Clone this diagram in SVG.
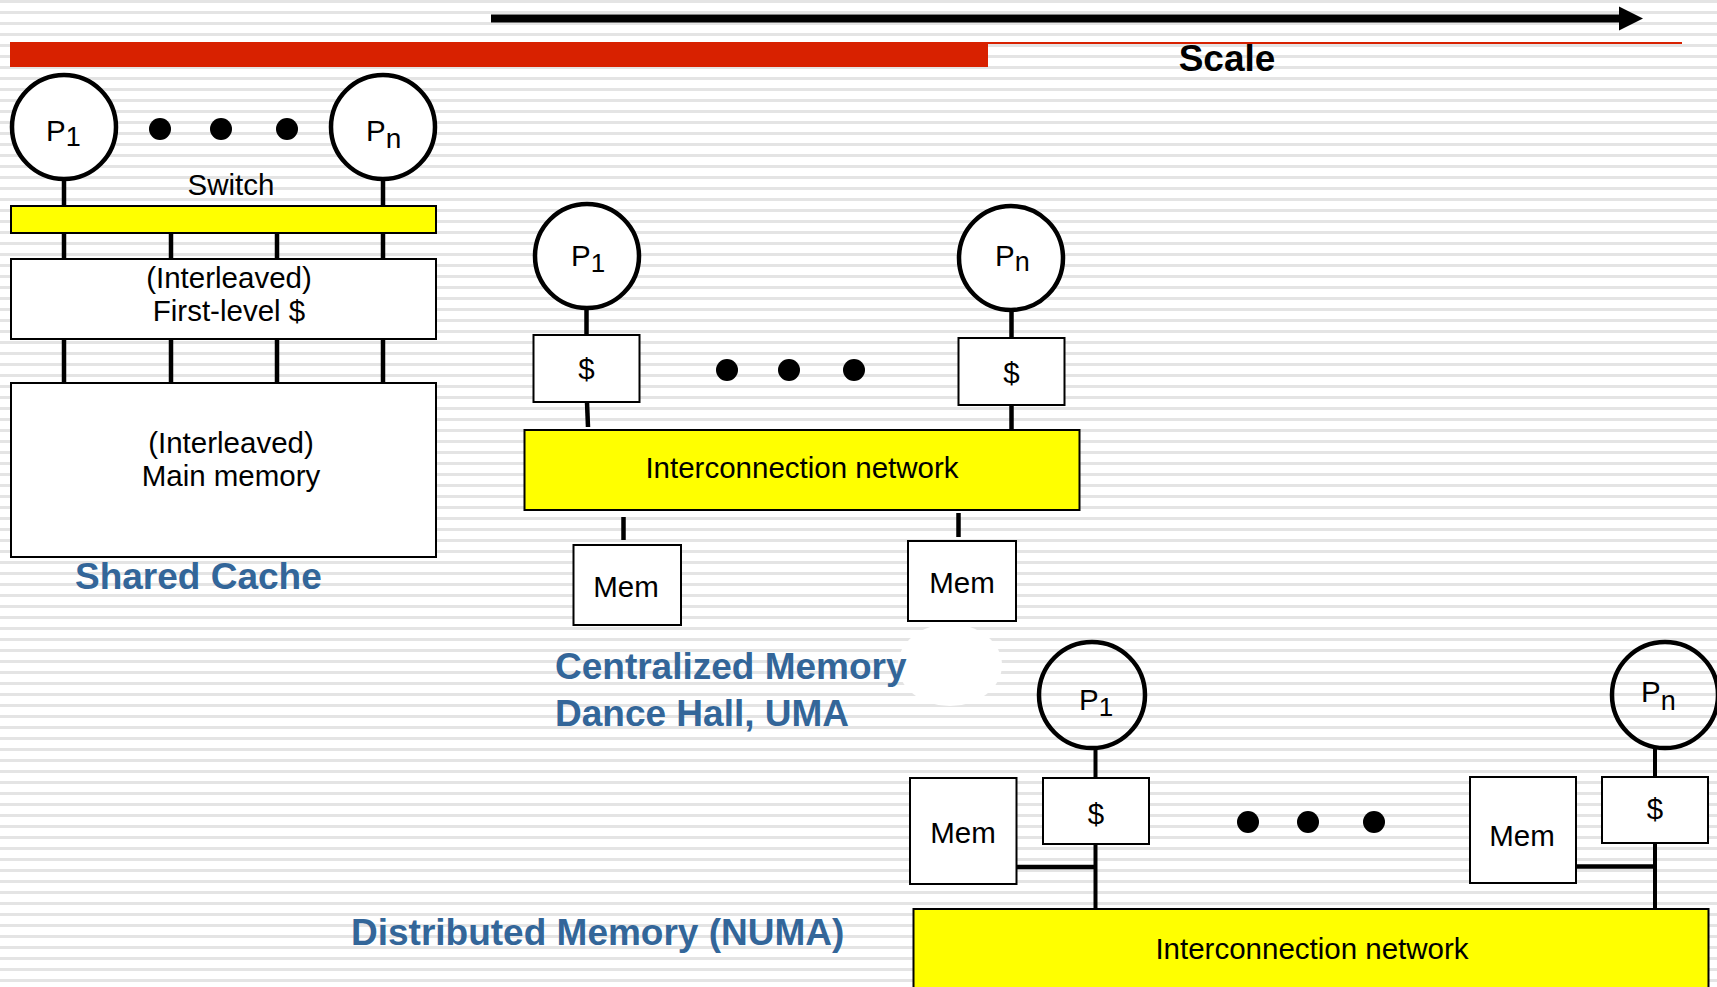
<svg xmlns="http://www.w3.org/2000/svg" width="1717" height="987" viewBox="0 0 1717 987">
  <style>
    .box{fill:#fff;stroke:#000;stroke-width:2}
    .net{fill:#ffff00;stroke:#000;stroke-width:2}
    .proc{fill:#fff;stroke:#000;stroke-width:4.5}
    .proc-open{fill:none;stroke:#000;stroke-width:4.5}
    .wire{stroke:#000;stroke-width:4.5;fill:none}
    .wire-thin{stroke:#000;stroke-width:4;fill:none}
    .dot{fill:#000}
    .lbl{font-family:"Liberation Sans",Arial,sans-serif;fill:#000;font-size:29.5px}
    .mid{text-anchor:middle}
    .title{font-family:"Liberation Sans",Arial,sans-serif;font-weight:bold;fill:#336699;font-size:37px}
  </style>
  <defs>
    <pattern id="stripes" width="40" height="11" patternUnits="userSpaceOnUse">
      <rect width="40" height="11" fill="#ffffff"/>
      <rect width="40" height="3" fill="#e4e4e4"/>
    </pattern>
  </defs>

  <!-- striped backdrop -->
  <rect width="1717" height="987" fill="url(#stripes)"/>

  <!-- scale arrow and header bar -->
  <g id="scale-axis">
    <rect x="491" y="14.5" width="1130" height="8" fill="#000"/>
    <polygon points="1619,6.5 1643,18.5 1619,30.5" fill="#000"/>
    <rect x="10" y="42" width="978" height="25" fill="#d82100"/>
    <rect x="988" y="42" width="694" height="2" fill="#d82100"/>
    <text x="1227" y="71" text-anchor="middle" font-family="Liberation Sans, Arial, sans-serif" font-weight="bold" font-size="37">Scale</text>
  </g>

  <!-- white smudge behind the label area -->
  <ellipse cx="950" cy="665" rx="52" ry="41" fill="#fff"/>

  <!-- connectors -->
  <g id="connectors">
    <!-- shared cache -->
    <line class="wire" x1="64" y1="180" x2="64" y2="207"/>
    <line class="wire" x1="383" y1="180" x2="383" y2="207"/>
    <line class="wire" x1="64" y1="233" x2="64" y2="260"/>
    <line class="wire" x1="171" y1="233" x2="171" y2="260"/>
    <line class="wire" x1="277" y1="233" x2="277" y2="260"/>
    <line class="wire" x1="383" y1="233" x2="383" y2="260"/>
    <line class="wire" x1="64" y1="339" x2="64" y2="383"/>
    <line class="wire" x1="171" y1="339" x2="171" y2="383"/>
    <line class="wire" x1="277" y1="339" x2="277" y2="383"/>
    <line class="wire" x1="383" y1="339" x2="383" y2="383"/>
    <!-- centralized memory -->
    <line class="wire" x1="586.5" y1="309" x2="586.5" y2="335"/>
    <line class="wire" x1="587" y1="402" x2="588" y2="427"/>
    <line class="wire" x1="1011.5" y1="312" x2="1011.5" y2="338"/>
    <line class="wire" x1="1011.5" y1="405" x2="1011.5" y2="430"/>
    <line class="wire" x1="623.5" y1="517" x2="623.5" y2="540"/>
    <line class="wire" x1="958.5" y1="513" x2="958.5" y2="537"/>
    <!-- distributed memory -->
    <line class="wire-thin" x1="1095.5" y1="749" x2="1095.5" y2="778"/>
    <line class="wire-thin" x1="1095.5" y1="844" x2="1095.5" y2="909"/>
    <line class="wire" stroke-width="5" x1="1016" y1="867" x2="1095.5" y2="867"/>
    <line class="wire-thin" x1="1655" y1="749" x2="1655" y2="777"/>
    <line class="wire-thin" x1="1655" y1="843" x2="1655" y2="909"/>
    <line class="wire" stroke-width="5" x1="1576" y1="866.5" x2="1655" y2="866.5"/>
  </g>

  <!-- ===== Shared cache ===== -->
  <g id="sc-p1">
    <circle class="proc" cx="64" cy="127" r="52"/>
    <text class="lbl" x="46" y="141" font-size="30">P<tspan font-size="27" dy="5">1</tspan></text>
  </g>
  <g id="sc-dots">
    <circle class="dot" cx="160" cy="129" r="11"/>
    <circle class="dot" cx="221" cy="129" r="11"/>
    <circle class="dot" cx="287" cy="129" r="11"/>
  </g>
  <g id="sc-pn">
    <circle class="proc" cx="383" cy="127" r="52"/>
    <text class="lbl" x="366" y="141" font-size="30">P<tspan font-size="28" dy="7">n</tspan></text>
  </g>
  <g id="sc-switch">
    <text class="lbl mid" x="231" y="195">Switch</text>
    <rect class="net" x="11" y="206" width="425" height="27" stroke-width="1.5"/>
  </g>
  <g id="sc-l1">
    <rect class="box" x="11" y="259" width="425" height="80" stroke-width="1.5"/>
    <text class="lbl mid" x="229" y="288" font-size="28.5">(Interleaved)</text>
    <text class="lbl mid" x="229" y="321" font-size="28.5">First-level $</text>
  </g>
  <g id="sc-mem">
    <rect class="box" x="11" y="383" width="425" height="174" stroke-width="1.5"/>
    <text class="lbl mid" x="231" y="453" font-size="29.5">(Interleaved)</text>
    <text class="lbl mid" x="231" y="486" font-size="29.5">Main memory</text>
  </g>
  <text id="sc-title" class="title" x="75" y="589">Shared Cache</text>

  <!-- ===== Centralized memory ===== -->
  <g id="cm-p1">
    <circle class="proc" cx="587" cy="256" r="52"/>
    <text class="lbl" x="571" y="266" font-size="29">P<tspan font-size="26" dy="6">1</tspan></text>
  </g>
  <g id="cm-c1">
    <rect class="box" x="533.5" y="335" width="106" height="67"/>
    <text class="lbl mid" x="586.5" y="379" font-size="29">$</text>
  </g>
  <g id="cm-pn">
    <circle class="proc" cx="1011" cy="258" r="52"/>
    <text class="lbl" x="995" y="266" font-size="29">P<tspan font-size="27" dy="5">n</tspan></text>
  </g>
  <g id="cm-cn">
    <rect class="box" x="958.5" y="338" width="106" height="67"/>
    <text class="lbl mid" x="1011.5" y="383" font-size="29">$</text>
  </g>
  <g id="cm-dots">
    <circle class="dot" cx="727" cy="370" r="11"/>
    <circle class="dot" cx="789" cy="370" r="11"/>
    <circle class="dot" cx="854" cy="370" r="11"/>
  </g>
  <g id="cm-net">
    <rect class="net" x="524.5" y="430" width="555" height="80"/>
    <text class="lbl mid" x="802" y="478" font-size="30.4">Interconnection network</text>
  </g>
  <g id="cm-mem1">
    <rect class="box" x="573.5" y="545" width="107.5" height="80"/>
    <text class="lbl mid" x="626" y="597">Mem</text>
  </g>
  <g id="cm-mem2">
    <rect class="box" x="908" y="541" width="108" height="80"/>
    <text class="lbl mid" x="962" y="593">Mem</text>
  </g>
  <g id="cm-title">
    <text class="title" x="555" y="679">Centralized Memory</text>
    <text class="title" x="555" y="726">Dance Hall, UMA</text>
  </g>

  <!-- ===== Distributed memory ===== -->
  <g id="dm-p1">
    <circle class="proc-open" cx="1092" cy="695" r="53"/>
    <text class="lbl" x="1079" y="710" font-size="29">P<tspan font-size="26" dy="6">1</tspan></text>
  </g>
  <g id="dm-mem1">
    <rect class="box" x="910" y="778" width="106.5" height="106"/>
    <text class="lbl mid" x="963" y="843">Mem</text>
  </g>
  <g id="dm-c1">
    <rect class="box" x="1043" y="778" width="106" height="66"/>
    <text class="lbl mid" x="1096" y="824" font-size="34">$</text>
  </g>
  <g id="dm-dots">
    <circle class="dot" cx="1248" cy="822" r="11"/>
    <circle class="dot" cx="1308" cy="822" r="11"/>
    <circle class="dot" cx="1374" cy="822" r="11"/>
  </g>
  <g id="dm-pn">
    <circle class="proc-open" cx="1665" cy="695" r="53"/>
    <text class="lbl" x="1641" y="702" font-size="29">P<tspan font-size="27" dy="8">n</tspan></text>
  </g>
  <g id="dm-mem2">
    <rect class="box" x="1470" y="777" width="106" height="106"/>
    <text class="lbl mid" x="1522" y="846">Mem</text>
  </g>
  <g id="dm-cn">
    <rect class="box" x="1602" y="777" width="106" height="66"/>
    <text class="lbl mid" x="1655" y="819" font-size="28">$</text>
  </g>
  <g id="dm-net">
    <rect class="net" x="913.5" y="909" width="795" height="100"/>
    <text class="lbl mid" x="1312" y="959" font-size="30.4">Interconnection network</text>
  </g>
  <text id="dm-title" class="title" x="351" y="945">Distributed Memory (NUMA)</text>
</svg>
